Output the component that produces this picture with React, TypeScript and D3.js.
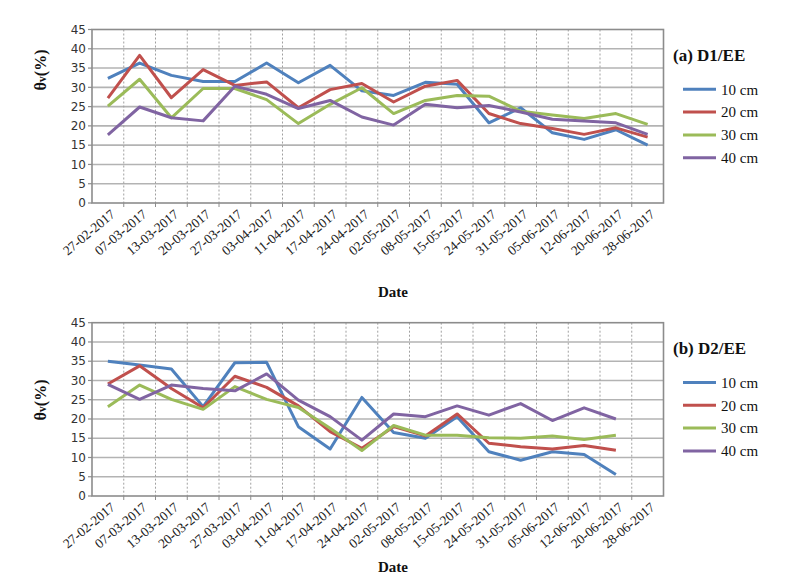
import React from "react";
import * as d3 from "d3";

const dates = ["27-02-2017","07-03-2017","13-03-2017","20-03-2017","27-03-2017","03-04-2017","11-04-2017","17-04-2017","24-04-2017","02-05-2017","08-05-2017","15-05-2017","24-05-2017","31-05-2017","05-06-2017","12-06-2017","20-06-2017","28-06-2017"];
const seriesNames = ["10 cm","20 cm","30 cm","40 cm"];
const seriesColors = ["#4F81BD","#C0504D","#9BBB59","#8064A2"];
const yTicks = [0,5,10,15,20,25,30,35,40,45];

const d1_10 = [32.3,36.3,33.1,31.5,31.5,36.3,31.2,35.7,29.1,27.9,31.3,30.8,20.8,24.7,18.2,16.5,19.0,15.0];
const d1_20 = [27.2,38.3,27.3,34.6,30.5,31.4,24.7,29.4,31.0,26.2,30.3,31.8,23.2,20.6,19.3,17.8,19.5,17.1];
const d1_30 = [25.1,32.1,22.1,29.7,29.7,26.8,20.6,25.6,29.9,23.2,26.6,27.9,27.7,23.8,22.8,21.9,23.2,20.4];
const d1_40 = [17.7,24.9,22.1,21.3,30.3,28.2,24.5,26.6,22.3,20.2,25.6,24.7,25.3,23.6,21.7,21.3,20.8,17.8];

const d2_10 = [35.0,34.0,33.0,23.2,34.6,34.7,18.0,12.2,25.6,16.5,15.0,20.6,11.5,9.3,11.5,10.8,5.6,null];
const d2_20 = [29.1,33.8,27.9,22.9,31.1,28.2,23.4,16.7,12.4,18.0,15.6,21.3,13.7,12.8,12.2,13.1,11.9,null];
const d2_30 = [23.2,28.8,25.1,22.5,28.4,25.1,23.0,17.6,11.8,18.3,15.8,15.8,15.1,15.0,15.6,14.7,15.8,null];
const d2_40 = [29.0,25.1,28.8,27.9,27.3,31.7,24.9,20.6,14.5,21.3,20.6,23.4,21.0,24.0,19.6,22.9,20.0,null];

const panels = [
  { title: "(a) D1/EE", series: [d1_10, d1_20, d1_30, d1_40], top: 29.5, bottom: 203, dateY: 297, ylabY: 70 },
  { title: "(b) D2/EE", series: [d2_10, d2_20, d2_30, d2_40], top: 322.7, bottom: 496, dateY: 572, ylabY: 400 },
];

const X0 = 92, X1 = 663.5;

function Panel({ p }: { p: typeof panels[number] }) {
  const x = d3.scaleBand<string>().domain(dates).range([X0, X1]).paddingInner(0).paddingOuter(0);
  const y = d3.scaleLinear().domain([0, 45]).range([p.bottom, p.top]);
  const cx = (d: string) => (x(d) as number) + x.bandwidth() / 2;
  const line = d3.line<number | null>()
    .defined((v) => v != null)
    .x((_, i) => cx(dates[i]))
    .y((v) => y(v as number));
  const serif = "'Liberation Serif', 'Times New Roman', serif";
  const off = p.top - 29.5;
  return (
    <g>
      {yTicks.filter((t) => t > 0 && t < 45).map((t) => (
        <line key={"h" + t} x1={X0} x2={X1} y1={y(t)} y2={y(t)} stroke="#b3b3b3" strokeWidth={1.6} />
      ))}
      {dates.slice(1).map((d) => (
        <line key={"v" + d} x1={x(d)} x2={x(d)} y1={p.top} y2={p.bottom} stroke="#a0a0a0" strokeWidth={1} strokeDasharray="2,2" />
      ))}
      <rect x={X0} y={p.top} width={X1 - X0} height={p.bottom - p.top} fill="none" stroke="#8c8c8c" strokeWidth={1.6} />
      {yTicks.map((t) => (
        <g key={"yt" + t}>
          <line x1={X0 - 4} x2={X0} y1={y(t)} y2={y(t)} stroke="#8c8c8c" strokeWidth={1.2} />
          <text x={86} y={y(t)} dy="0.35em" textAnchor="end" fontFamily="'DejaVu Sans', Verdana, sans-serif" fontSize={12} fill="#333">{t}</text>
        </g>
      ))}
      {dates.slice(1).map((d) => (
        <line key={"xt" + d} x1={x(d)} x2={x(d)} y1={p.bottom} y2={p.bottom + 4} stroke="#8c8c8c" strokeWidth={1} />
      ))}
      {dates.map((d) => (
        <text key={"xl" + d} transform={`translate(${cx(d) + 5},${p.bottom + 9}) rotate(-40)`} textAnchor="end" dy="0.35em"
          fontFamily={serif} fontSize={13.5} fill="#222">{d}</text>
      ))}
      <text x={393} y={p.dateY} textAnchor="middle" fontFamily={serif} fontWeight="bold" fontSize={15} fill="#111">Date</text>
      <text transform={`translate(46,${p.ylabY}) rotate(-90)`} textAnchor="middle" fontFamily={serif} fontWeight="bold" fontSize={16} fill="#111">
        θ<tspan fontSize={12}>v</tspan>(%)
      </text>
      {p.series.map((s, i) => (
        <path key={"s" + i} d={line(s) as string} fill="none" stroke={seriesColors[i]} strokeWidth={3} strokeLinejoin="round" />
      ))}
      <text x={673} y={61 + off} fontFamily={serif} fontWeight="bold" fontSize={17} fill="#111">{p.title}</text>
      {seriesNames.map((n, i) => {
        const ly = 89.3 + off + i * 22.8;
        return (
          <g key={"lg" + n}>
            <line x1={683} x2={716} y1={ly} y2={ly} stroke={seriesColors[i]} strokeWidth={3} />
            <text x={721} y={ly} dy="0.35em" fontFamily={serif} fontSize={15} fill="#111">{n}</text>
          </g>
        );
      })}
    </g>
  );
}

export default function App() {
  return (
    <svg width={812} height={586} style={{ position: "absolute", left: 0, top: 0, background: "#fff" }}>
      <rect width={812} height={586} fill="#fff" />
      {panels.map((p) => <Panel key={p.title} p={p} />)}
    </svg>
  );
}
